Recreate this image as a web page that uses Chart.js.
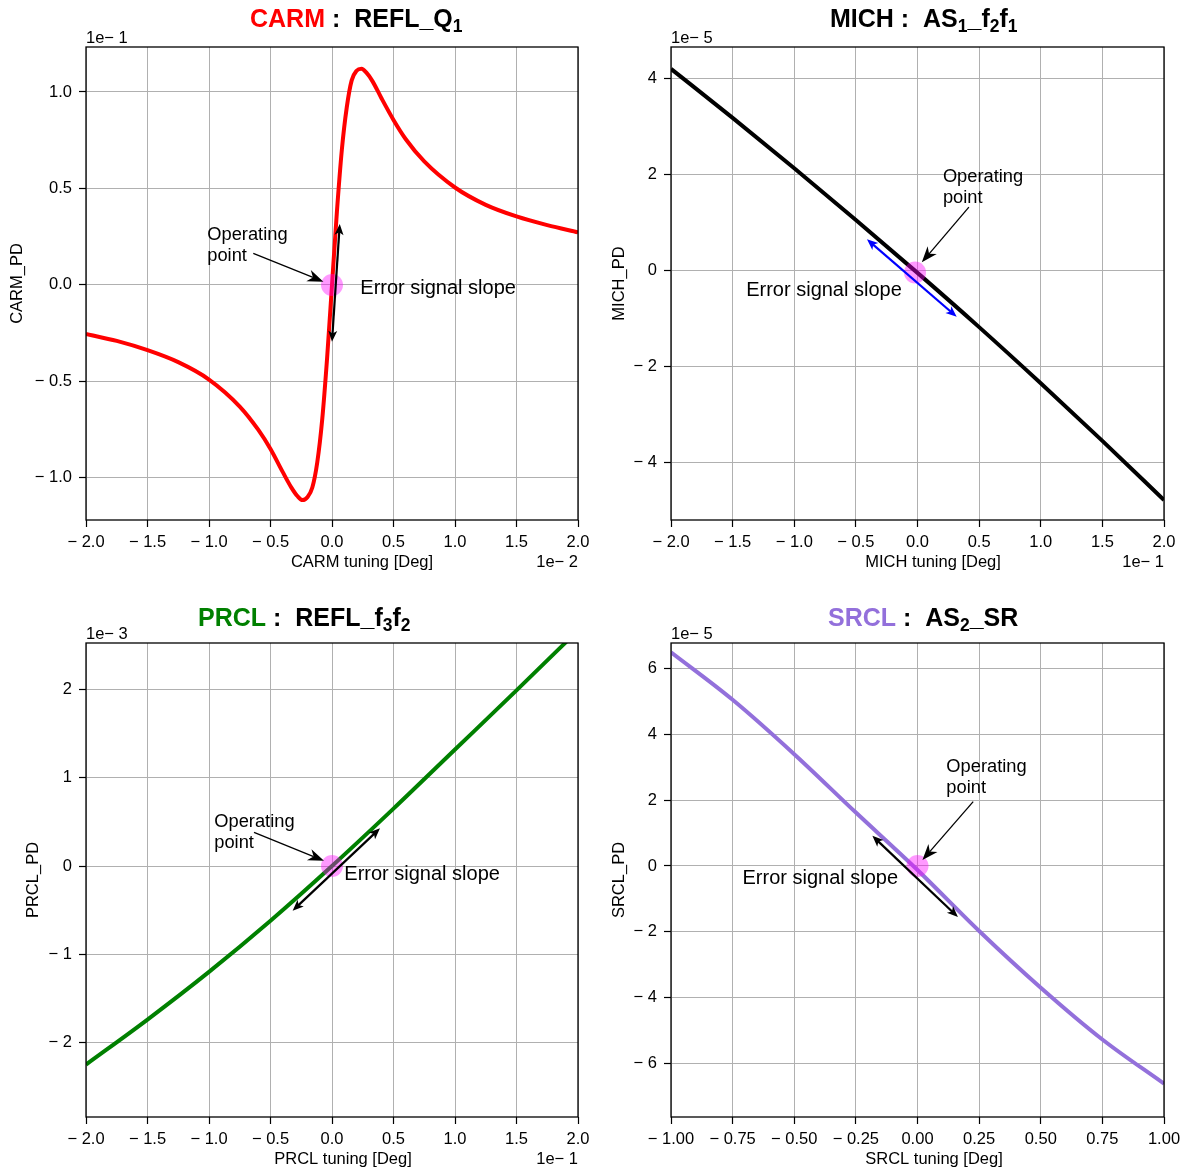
<!DOCTYPE html>
<html><head><meta charset="utf-8">
<script src="https://cdn.jsdelivr.net/npm/chart.js@4.4.0/dist/chart.umd.min.js"></script>
<style>
html,body{margin:0;padding:0;background:#fff;}
#wrap{position:relative;width:1188px;height:1172px;background:#fff;}
#wrap canvas{position:absolute;left:0;top:0;}
</style></head><body><div id="wrap"></div>
<script>
// ---------------- data ----------------
const carmX = [-2.0,-1.75,-1.5,-1.25,-1.0,-0.75,-0.6,-0.5,-0.4,-0.33,-0.28,-0.24,-0.2,-0.16,-0.12,-0.08,-0.04,0,0.04,0.08,0.12,0.16,0.2,0.24,0.28,0.33,0.4,0.5,0.6,0.75,1.0,1.25,1.5,1.75,2.0];
const carmY = [-0.254,-0.290,-0.338,-0.400,-0.490,-0.630,-0.750,-0.850,-0.970,-1.050,-1.095,-1.115,-1.100,-1.050,-0.920,-0.700,-0.380,0,0.380,0.700,0.920,1.060,1.110,1.120,1.100,1.055,0.970,0.855,0.755,0.640,0.505,0.415,0.355,0.310,0.273];

const michX = [-2.0,-1.5,-1.0,-0.5,0,0.5,1.0,1.5,2.0];
const michY = [4.19,3.17,2.12,1.04,-0.06,-1.19,-2.36,-3.56,-4.79];

const prclX = [-2.0,-1.5,-1.0,-0.5,0,0.5,1.0,1.5,2.0];
const prclY = [-2.25,-1.74,-1.20,-0.62,0,0.65,1.32,1.99,2.67];

const srclX = [-1.0,-0.75,-0.5,-0.25,0,0.25,0.5,0.75,1.0];
const srclY = [6.48,5.04,3.39,1.62,-0.12,-1.97,-3.69,-5.26,-6.60];

// tick values and labels
const xTicks2 = [-2.0,-1.5,-1.0,-0.5,0,0.5,1.0,1.5,2.0];
const xTicks2Labels = ['\u2212 2.0','\u2212 1.5','\u2212 1.0','\u2212 0.5','0.0','0.5','1.0','1.5','2.0'];
const srclXTicks = [-1.0,-0.75,-0.5,-0.25,0,0.25,0.5,0.75,1.0];
const srclXTickLabels = ['\u2212 1.00','\u2212 0.75','\u2212 0.50','\u2212 0.25','0.00','0.25','0.50','0.75','1.00'];
const carmYTicks = [-1.0,-0.5,0,0.5,1.0];
const carmYTickLabels = ['\u2212 1.0','\u2212 0.5','0.0','0.5','1.0'];
const michYTicks = [-4,-2,0,2,4];
const michYTickLabels = ['\u2212 4','\u2212 2','0','2','4'];
const prclYTicks = [-2,-1,0,1,2];
const prclYTickLabels = ['\u2212 2','\u2212 1','0','1','2'];
const srclYTicks = [-6,-4,-2,0,2,4,6];
const srclYTickLabels = ['\u2212 6','\u2212 4','\u2212 2','0','2','4','6'];

// operating points and annotation anchors (data coordinates)
const carmOp = [0, 0];
const carmOpText = [-1.014, 0.233];
const carmOpArrow = [[-0.64, 0.164], [-0.07, 0.017]];
const carmSlopeText = [0.23, -0.045];
const carmSlopeArrow = [[0.0, -0.294], [0.063, 0.316]];

const michOp = [-0.02, -0.05];
const michOpText = [0.206, 1.84];
const michOpArrow = [[0.417, 1.31], [0.035, 0.16]];
const michSlopeText = [-1.39, -0.54];
const michSlopeArrow = [[-0.41, 0.64], [0.318, -0.975]];

const prclOp = [0, 0];
const prclOpText = [-0.957, 0.445];
const prclOpArrow = [[-0.634, 0.382], [-0.065, 0.059]];
const prclSlopeText = [0.1, -0.159];
const prclSlopeArrow = [[-0.32, -0.506], [0.39, 0.427]];

const srclOp = [0, 0];
const srclOpText = [0.117, 2.86];
const srclOpArrow = [[0.226, 1.95], [0.02, 0.18]];
const srclSlopeText = [-0.71, -0.555];
const srclSlopeArrow = [[-0.183, 0.915], [0.164, -1.55]];

// ---------------- rendering ----------------
const FONT = '"Liberation Sans", Arial, Helvetica, sans-serif';
Chart.defaults.font.family = FONT;
Chart.defaults.font.size = 16.5;
Chart.defaults.color = '#000';

const panels = [
  { L:86, R:578, T:47, B:520, xMin:-2, xMax:2, yMin:-1.218, yMax:1.233,
    xs:carmX, ys:carmY, color:'#ff0000', xTicks:xTicks2, xLabels:xTicks2Labels, yTicks:carmYTicks, yLabels:carmYTickLabels,
    op:carmOp, opText:carmOpText, opArrow:carmOpArrow, slopeText:carmSlopeText, slopeArrow:carmSlopeArrow, slopeColor:'#000',
    title:[{t:'CARM',c:'#ff0000'},{t:' :  '},{t:'REFL_Q'},{t:'1',sub:true}], titleX:250, titleY:27,
    xTitle:'CARM tuning [Deg]', xTitleX:362, yTitle:'CARM_PD', yTitleX:17, yOffset:'1e\u2212 1', xOffset:'1e\u2212 2' },
  { L:671, R:1164, T:47, B:520, xMin:-2, xMax:2, yMin:-5.208, yMax:4.646,
    xs:michX, ys:michY, color:'#000000', xTicks:xTicks2, xLabels:xTicks2Labels, yTicks:michYTicks, yLabels:michYTickLabels,
    op:michOp, opText:michOpText, opArrow:michOpArrow, slopeText:michSlopeText, slopeArrow:michSlopeArrow, slopeColor:'#0000ff',
    title:[{t:'MICH'},{t:' :  '},{t:'AS'},{t:'1',sub:true},{t:'_f'},{t:'2',sub:true},{t:'f'},{t:'1',sub:true}], titleX:830, titleY:27,
    xTitle:'MICH tuning [Deg]', xTitleX:933, yTitle:'MICH_PD', yTitleX:619, yOffset:'1e\u2212 5', xOffset:'1e\u2212 1' },
  { L:86, R:578, T:643, B:1117, xMin:-2, xMax:2, yMin:-2.844, yMax:2.527,
    xs:prclX, ys:prclY, color:'#008000', xTicks:xTicks2, xLabels:xTicks2Labels, yTicks:prclYTicks, yLabels:prclYTickLabels,
    op:prclOp, opText:prclOpText, opArrow:prclOpArrow, slopeText:prclSlopeText, slopeArrow:prclSlopeArrow, slopeColor:'#000',
    title:[{t:'PRCL',c:'#008000'},{t:' :  '},{t:'REFL_f'},{t:'3',sub:true},{t:'f'},{t:'2',sub:true}], titleX:198, titleY:626,
    xTitle:'PRCL tuning [Deg]', xTitleX:343, yTitle:'PRCL_PD', yTitleX:33, yOffset:'1e\u2212 3', xOffset:'1e\u2212 1' },
  { L:671, R:1164, T:643, B:1117, xMin:-1, xMax:1, yMin:-7.61, yMax:6.76,
    xs:srclX, ys:srclY, color:'#9370db', xTicks:srclXTicks, xLabels:srclXTickLabels, yTicks:srclYTicks, yLabels:srclYTickLabels,
    op:srclOp, opText:srclOpText, opArrow:srclOpArrow, slopeText:srclSlopeText, slopeArrow:srclSlopeArrow, slopeColor:'#000',
    title:[{t:'SRCL',c:'#9370db'},{t:' :  '},{t:'AS'},{t:'2',sub:true},{t:'_SR'}], titleX:828, titleY:626,
    xTitle:'SRCL tuning [Deg]', xTitleX:934, yTitle:'SRCL_PD', yTitleX:619, yOffset:'1e\u2212 5', xOffset:null }
];

function arrowHead(ctx, tx, ty, fx, fy, len, hw, notch) {
  const a = Math.atan2(ty - fy, tx - fx);
  const c = Math.cos(a), s = Math.sin(a);
  const bx = tx - len * c, by = ty - len * s;
  const ix = tx - len * (1 - notch) * c, iy = ty - len * (1 - notch) * s;
  ctx.beginPath();
  ctx.moveTo(tx, ty);
  ctx.lineTo(bx - hw * s, by + hw * c);
  ctx.lineTo(ix, iy);
  ctx.lineTo(bx + hw * s, by - hw * c);
  ctx.closePath();
  ctx.fill();
}

const decor = {
  id: 'decor',
  afterDatasetsDraw(chart, args, p) {
    const ctx = chart.ctx, xs = chart.scales.x, ys = chart.scales.y;
    const px = v => xs.getPixelForValue(v), py = v => ys.getPixelForValue(v);
    ctx.save();
    // operating point arrow (single head)
    {
      const [t, h] = p.opArrow;
      const x0 = px(t[0]), y0 = py(t[1]), x1 = px(h[0]), y1 = py(h[1]);
      const a = Math.atan2(y1 - y0, x1 - x0), len = 16;
      ctx.strokeStyle = '#000'; ctx.fillStyle = '#000'; ctx.lineWidth = 1.3;
      ctx.beginPath(); ctx.moveTo(x0, y0);
      ctx.lineTo(x1 - Math.cos(a) * len * 0.7, y1 - Math.sin(a) * len * 0.7); ctx.stroke();
      arrowHead(ctx, x1, y1, x0, y0, len, 6, 0.3);
    }
    // error signal slope arrow (double head)
    {
      const [a0, a1] = p.slopeArrow;
      const x0 = px(a0[0]), y0 = py(a0[1]), x1 = px(a1[0]), y1 = py(a1[1]);
      const a = Math.atan2(y1 - y0, x1 - x0), len = 11;
      ctx.strokeStyle = p.slopeColor; ctx.fillStyle = p.slopeColor; ctx.lineWidth = 2.2;
      ctx.beginPath();
      ctx.moveTo(x0 + Math.cos(a) * len * 0.7, y0 + Math.sin(a) * len * 0.7);
      ctx.lineTo(x1 - Math.cos(a) * len * 0.7, y1 - Math.sin(a) * len * 0.7);
      ctx.stroke();
      arrowHead(ctx, x1, y1, x0, y0, len, 4.5, 0.25);
      arrowHead(ctx, x0, y0, x1, y1, len, 4.5, 0.25);
    }
    // texts
    ctx.fillStyle = '#000'; ctx.textAlign = 'left'; ctx.textBaseline = 'alphabetic';
    ctx.font = '18.3px ' + FONT;
    const ox = px(p.opText[0]), oy = py(p.opText[1]);
    ctx.fillText('Operating', ox, oy);
    ctx.fillText('point', ox, oy + 21.5);
    ctx.font = '20px ' + FONT;
    ctx.fillText('Error signal slope', px(p.slopeText[0]), py(p.slopeText[1]));
    ctx.restore();
  },
  afterDraw(chart, args, p) {
    const ctx = chart.ctx, a = chart.chartArea;
    ctx.save();
    // frame
    ctx.strokeStyle = '#000'; ctx.lineWidth = 1.3;
    ctx.strokeRect(a.left, a.top, a.right - a.left, a.bottom - a.top);
    // title
    let x = p.titleX;
    ctx.textAlign = 'left'; ctx.textBaseline = 'alphabetic';
    for (const s of p.title) {
      const size = s.sub ? 17.5 : 25;
      ctx.font = 'bold ' + size + 'px ' + FONT;
      ctx.fillStyle = s.c || '#000';
      ctx.fillText(s.t, x, p.titleY + (s.sub ? 5 : 0));
      x += ctx.measureText(s.t).width;
    }
    // offset texts
    ctx.fillStyle = '#000';
    ctx.font = '16.5px ' + FONT;
    ctx.fillText(p.yOffset, a.left, a.top - 4.5);
    if (p.xOffset) {
      ctx.textAlign = 'right';
      ctx.fillText(p.xOffset, a.right, a.bottom + 47);
    }
    // axis titles
    ctx.textAlign = 'center';
    ctx.fillText(p.xTitle, p.xTitleX, a.bottom + 47);
    ctx.translate(p.yTitleX, (a.top + a.bottom) / 2);
    ctx.rotate(-Math.PI / 2);
    ctx.textBaseline = 'middle';
    ctx.fillText(p.yTitle, 0, 0);
    ctx.restore();
  }
};

function axis(ticks, labels, min, max, isX) {
  return {
    type: 'linear', min, max, offset: false,
    afterBuildTicks: s => { s.ticks = ticks.map(v => ({ value: v })); },
    afterFit: s => { if (isX) s.height = 60; else s.width = 80; },
    grid: { color: '#b0b0b0', lineWidth: 1, drawTicks: true, tickLength: 7, tickColor: '#000', tickWidth: 1.2 },
    border: { display: false },
    ticks: { autoSkip: false, maxRotation: 0, minRotation: 0, padding: isX ? 6 : 7, color: '#000',
             font: { family: FONT, size: 16.5 }, callback: (v, i) => labels[i] }
  };
}

const wrap = document.getElementById('wrap');
for (const p of panels) {
  const cv = document.createElement('canvas');
  cv.width = 1188; cv.height = 1172;
  cv.style.width = '1188px'; cv.style.height = '1172px';
  wrap.appendChild(cv);
  new Chart(cv, {
    type: 'line',
    data: {
      datasets: [
        { data: p.xs.map((x, i) => ({ x, y: p.ys[i] })), borderColor: p.color, borderWidth: 4,
          pointRadius: 0, fill: false, cubicInterpolationMode: 'monotone', clip: 0, order: 2 },
        { data: [{ x: p.op[0], y: p.op[1] }], showLine: false, pointRadius: 11, pointBorderWidth: 0,
          pointBackgroundColor: 'rgba(255,0,255,0.4)', pointBorderColor: 'rgba(0,0,0,0)', order: 1 }
      ]
    },
    options: {
      responsive: false, animation: false, events: [],
      layout: { autoPadding: false, padding: { left: p.L - 80, top: p.T, right: 1188 - p.R, bottom: 1172 - p.B - 60 } },
      scales: {
        x: axis(p.xTicks, p.xLabels, p.xMin, p.xMax, true),
        y: axis(p.yTicks, p.yLabels, p.yMin, p.yMax, false)
      },
      plugins: { legend: { display: false }, tooltip: { enabled: false }, title: { display: false }, decor: p }
    },
    plugins: [decor]
  });
}
</script></body></html>
